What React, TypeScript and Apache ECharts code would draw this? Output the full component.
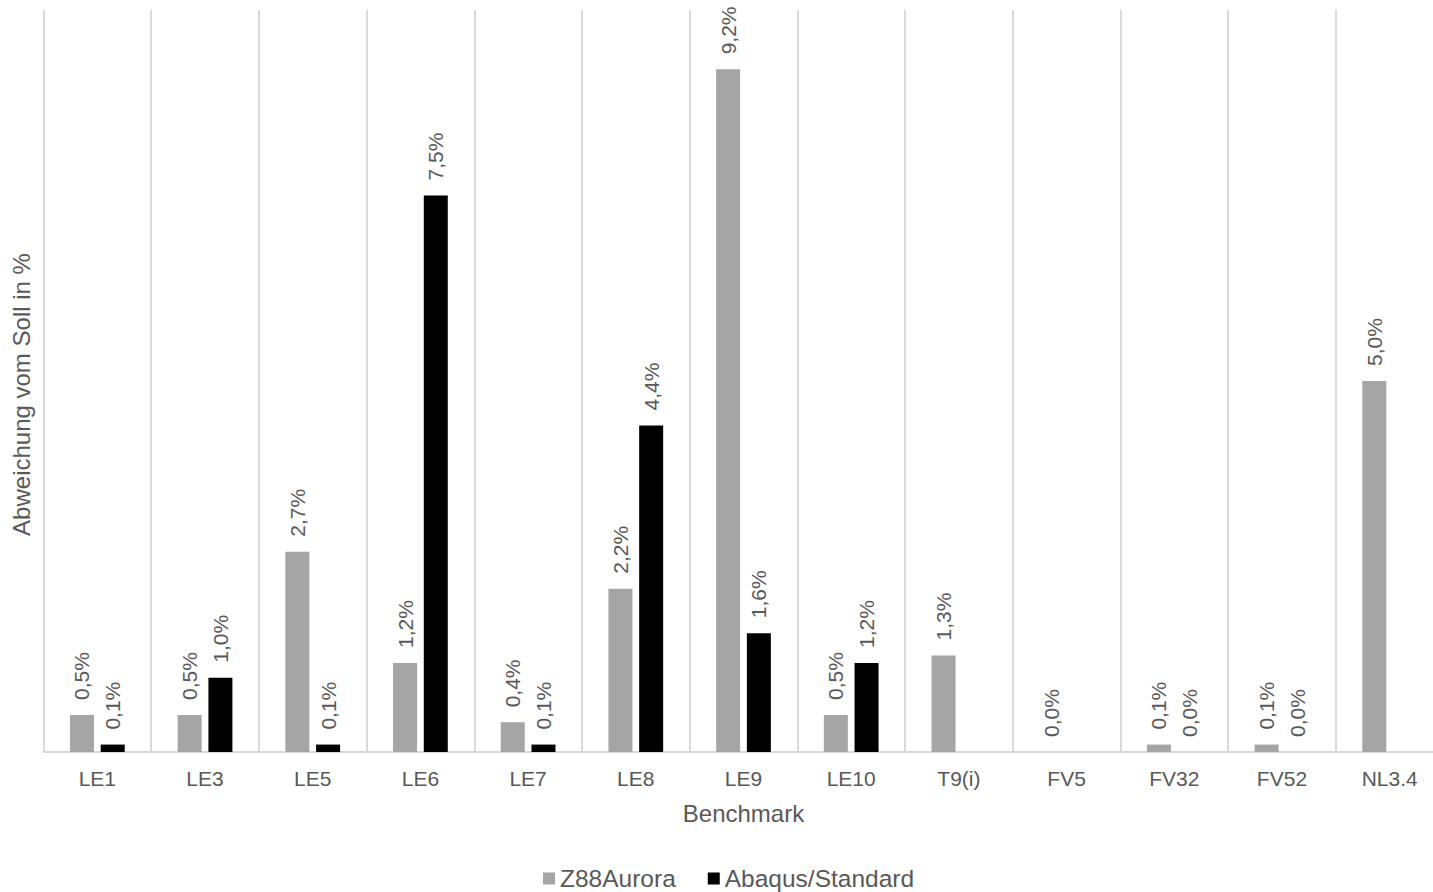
import React, { useEffect, useRef } from "react";
import * as echarts from "echarts";

const categories = ["LE1", "LE3", "LE5", "LE6", "LE7", "LE8", "LE9", "LE10", "T9(i)", "FV5", "FV32", "FV52", "NL3.4"];
const z88Aurora = [0.5, 0.5, 2.7, 1.2, 0.4, 2.2, 9.2, 0.5, 1.3, 0.0, 0.1, 0.1, 5.0];
const abaqusStandard = [0.1, 1.0, 0.1, 7.5, 0.1, 4.4, 1.6, 1.2, null, null, 0.0, 0.0, null];

const TEXT = "#595959";
const FONT = "Liberation Sans, Arial, sans-serif";
const fmt = (p: any) => (p.value == null ? "" : Number(p.value).toFixed(1).replace(".", ",") + "%");

export default function App() {
  const ref = useRef<HTMLDivElement>(null);
  useEffect(() => {
    const chart = echarts.init(ref.current!, undefined, { renderer: "svg" });
    const label = {
      show: true,
      position: "top",
      rotate: 90,
      align: "left",
      verticalAlign: "middle",
      distance: 15,
      color: TEXT,
      fontSize: 21,
      fontFamily: FONT,
      formatter: fmt,
    };
    chart.setOption({
      animation: false,
      textStyle: { fontFamily: FONT, color: TEXT },
      grid: { left: 43.5, top: 10, width: 1400, height: 742, containLabel: false },
      legend: {
        left: 543,
        top: 866,
        padding: 0,
        itemWidth: 12,
        itemHeight: 12,
        itemGap: 32,
        icon: "rect",
        textStyle: { fontSize: 24.5, color: TEXT },
        data: ["Z88Aurora", "Abaqus/Standard"],
      },
      xAxis: {
        type: "category",
        data: categories,
        name: "Benchmark",
        nameLocation: "middle",
        nameGap: 49,
        nameTextStyle: { fontSize: 24, color: TEXT },
        axisLine: { show: true, lineStyle: { color: "#d9d9d9", width: 2 } },
        axisTick: { show: false },
        axisLabel: { fontSize: 21, color: TEXT, margin: 16, interval: 0 },
        splitLine: { show: true, interval: 0, lineStyle: { color: "#d9d9d9", width: 2 } },
      },
      yAxis: {
        type: "value",
        min: 0,
        max: 10,
        name: "Abweichung vom Soll in %",
        nameLocation: "middle",
        nameGap: 10,
        nameTextStyle: { fontSize: 24, color: TEXT, padding: [0, 27, 0, 0] },
        axisLine: { show: false },
        axisTick: { show: false },
        axisLabel: { show: false },
        splitLine: { show: false },
      },
      series: [
        {
          name: "Z88Aurora",
          type: "bar",
          data: z88Aurora,
          barWidth: 24,
          barGap: "28%",
          itemStyle: { color: "#a5a5a5" },
          label,
        },
        {
          name: "Abaqus/Standard",
          type: "bar",
          data: abaqusStandard,
          barWidth: 24,
          barGap: "28%",
          itemStyle: { color: "#000000" },
          label,
        },
      ],
    });
    return () => chart.dispose();
  }, []);
  return (
    <div style={{ position: "fixed", left: 0, top: 0, width: 1433, height: 892, overflow: "hidden", background: "#fff" }}>
      <div ref={ref} style={{ width: 1460, height: 892 }} />
    </div>
  );
}
